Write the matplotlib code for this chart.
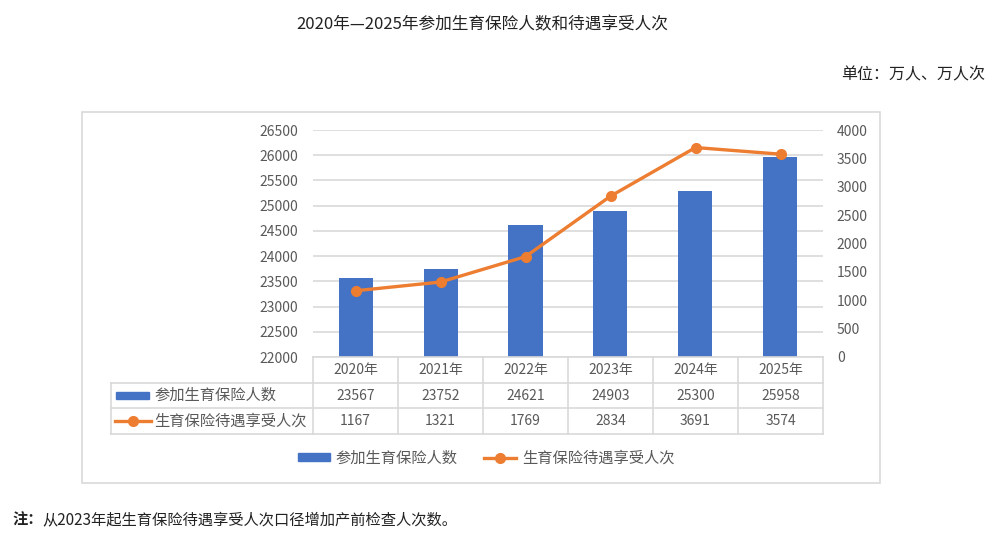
import matplotlib
matplotlib.use("Agg")
import matplotlib.pyplot as plt
from matplotlib.patches import Rectangle
from matplotlib.lines import Line2D

plt.rcParams['font.family'] = ['Noto Sans CJK SC', 'DejaVu Sans']

# 数据
years = ["2020年", "2021年", "2022年", "2023年", "2024年", "2025年"]
insured = [23567, 23752, 24621, 24903, 25300, 25958]     # 参加生育保险人数
benefits = [1167, 1321, 1769, 2834, 3691, 3574]          # 生育保险待遇享受人次
series_names = ["参加生育保险人数", "生育保险待遇享受人次"]

BLUE = "#4472C4"
ORANGE = "#ED7D31"
GRID = "#D9D9D9"
TXT = "#595959"

W, H = 1003, 542


def fx(px):
    return px / W


def fy(py):
    return 1 - py / H


fig = plt.figure(figsize=(W / 100, H / 100), dpi=100)

# 图表外框
fig.patches.append(Rectangle((fx(82), fy(483)), fx(880) - fx(82), fy(112) - fy(483),
                             transform=fig.transFigure, fill=False,
                             edgecolor=GRID, lw=1.2))

# 主坐标轴（柱状图）
ax = fig.add_axes([fx(313), fy(357), fx(823) - fx(313), fy(130) - fy(357)])
x = list(range(len(years)))
ax.bar(x, insured, width=0.4, color=BLUE, zorder=2)
ax.set_xlim(-0.5, len(years) - 0.5)
ax.set_ylim(22000, 26500)
ax.set_yticks(range(22000, 26501, 500))
ax.set_xticks([])
ax.yaxis.grid(True, color=GRID, lw=1.2)
ax.set_axisbelow(True)
ax.tick_params(axis='y', length=0, pad=11, labelsize=10, labelcolor=TXT)
for s in ax.spines.values():
    s.set_visible(False)

# 次坐标轴（折线）
ax2 = ax.twinx()
ax2.plot(x, benefits, color=ORANGE, lw=2.4, marker='o', markersize=7, zorder=3)
ax2.set_ylim(0, 4000)
ax2.set_yticks(range(0, 4001, 500))
ax2.tick_params(axis='y', length=0, pad=10, labelsize=10, labelcolor=TXT)
for s in ax2.spines.values():
    s.set_visible(False)

# 数据表
label_w = (313 - 111) / ((823 - 313) / len(years))
left = -0.5 - label_w
tab = fig.add_axes([fx(111), fy(434), fx(823) - fx(111), fy(357) - fy(434)])
tab.set_xlim(left, len(years) - 0.5)
tab.set_ylim(3, 0)
tab.axis('off')

# 表格线
tab.plot([-0.5, len(years) - 0.5], [0, 0], color=GRID, lw=1.2, clip_on=False)
for r in (1, 2, 3):
    tab.plot([left, len(years) - 0.5], [r, r], color=GRID, lw=1.2, clip_on=False)
tab.plot([left, left], [1, 3], color=GRID, lw=1.2, clip_on=False)
for i in range(len(years) + 1):
    tab.plot([i - 0.5, i - 0.5], [0, 3], color=GRID, lw=1.2, clip_on=False)

for i, yr in enumerate(years):
    tab.text(i, 0.5, yr, ha='center', va='center', fontsize=10, color=TXT)
    tab.text(i, 1.5, str(insured[i]), ha='center', va='center', fontsize=10, color=TXT)
    tab.text(i, 2.5, str(benefits[i]), ha='center', va='center', fontsize=10, color=TXT)

# 表格中的图例标识
tab.add_patch(Rectangle((left + 0.06, 1.38), 0.39, 0.26, color=BLUE, clip_on=False))
tab.plot([left + 0.05, left + 0.47], [2.5, 2.5], color=ORANGE, lw=2.4, clip_on=False)
tab.plot([left + 0.26], [2.5], 'o', color=ORANGE, markersize=7, clip_on=False)
tab.text(left + 0.51, 1.5, series_names[0], ha='left', va='center', fontsize=11, color=TXT)
tab.text(left + 0.51, 2.5, series_names[1], ha='left', va='center', fontsize=11, color=TXT)

# 底部图例
handles = [Rectangle((0, 0), 1, 1, color=BLUE),
           Line2D([], [], color=ORANGE, lw=2.4, marker='o', markersize=7)]
fig.legend(handles, series_names, loc='center', bbox_to_anchor=(fx(486), fy(458)),
           ncol=2, frameon=False, fontsize=11, labelcolor=TXT,
           handlelength=2.1, handleheight=0.5, handletextpad=0.4, columnspacing=1.7)

# 标题与注释
fig.text(fx(482), fy(25), "2020年—2025年参加生育保险人数和待遇享受人次",
         ha='center', va='center', fontsize=12, color='#222222')
fig.text(fx(985), fy(75), "单位：万人、万人次", ha='right', va='center',
         fontsize=11.5, color='#222222')
note = fig.text(fx(12), fy(520), "注：", ha='left', va='center',
                fontsize=11, fontweight='bold', color='#222222')
ax.annotate("从2023年起生育保险待遇享受人次口径增加产前检查人次数。",
            xy=(1, 0.5), xycoords=note, ha='left', va='center',
            fontsize=11, color='#222222', annotation_clip=False)

fig.savefig("out.png", dpi=100)
